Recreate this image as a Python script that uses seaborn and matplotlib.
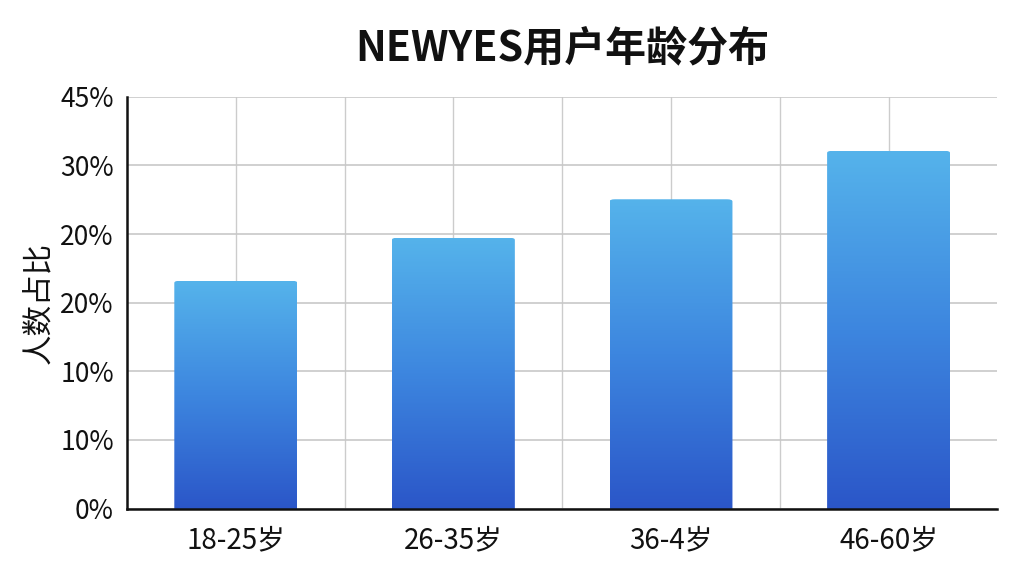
"""
    NEWYES用户年龄分布 - barras con degradado
"""
import numpy as np
import pandas as pd
import matplotlib
matplotlib.use('Agg')
import matplotlib.pyplot as plt
import seaborn as sns
from matplotlib.patches import FancyBboxPatch
from matplotlib.colors import LinearSegmentedColormap

# Datos (en unidades del eje, 0-45)
grupos = ['18-25岁', '26-35岁', '36-4岁', '46-60岁']
valores = [24.9, 29.6, 33.8, 39.1]
ticks_y = [0, 7.5, 15, 22.5, 30, 37.5, 45]
etiquetas_y = ['0%', '10%', '10%', '20%', '20%', '30%', '45%']

df = pd.DataFrame({'grupo': grupos, 'valor': valores})

sns.set_theme(style='white')
plt.rcParams['font.family'] = ['Noto Sans CJK SC', 'DejaVu Sans']

fig, ax = plt.subplots(figsize=(10.24, 5.76), dpi=100)
fig.subplots_adjust(left=0.124, right=0.974, top=0.832, bottom=0.117)

sns.barplot(data=df, x='grupo', y='valor', ax=ax, width=0.565,
            color='#3f8ee0', edgecolor='none', zorder=2)

# Degradado con esquinas superiores redondeadas
cmap = LinearSegmentedColormap.from_list('azul', ['#2b56c8', '#3d86df', '#55b3eb'])
grad = np.linspace(0, 1, 256).reshape(-1, 1)
for bar in list(ax.patches):
    x0, w, h = bar.get_x(), bar.get_width(), bar.get_height()
    bar.set_visible(False)
    clip = FancyBboxPatch((x0, -2), w, h + 2,
                          boxstyle='round,pad=0,rounding_size=0.025',
                          mutation_aspect=9.5, transform=ax.transData,
                          facecolor='none', edgecolor='none')
    ax.add_patch(clip)
    im = ax.imshow(grad, extent=[x0, x0 + w, 0, h], origin='lower',
                   cmap=cmap, aspect='auto', zorder=2)
    im.set_clip_path(clip)

ax.set_xlim(-0.5, 3.5)
ax.set_ylim(0, 45)
ax.set_yticks(ticks_y)
ax.set_yticklabels(etiquetas_y)
ax.set_xticks(np.arange(0, 3.01, 0.5), minor=True)
ax.xaxis.remove_overlapping_locs = False

ax.grid(True, axis='y', color='#c8c8c8', linewidth=1.2, zorder=0)
ax.grid(True, axis='x', which='minor', color='#cccccc', linewidth=1.0, zorder=0)
ax.set_axisbelow(True)

for s in ['top', 'right']:
    ax.spines[s].set_visible(False)
for s in ['left', 'bottom']:
    ax.spines[s].set_color('#111111')
    ax.spines[s].set_linewidth(1.8)

ax.tick_params(axis='both', which='major', length=6, width=1.5, color='#111111',
               labelsize=19, labelcolor='#111111')
ax.tick_params(axis='x', which='major', labelsize=20, pad=6)
ax.tick_params(axis='x', which='minor', length=0)

ax.set_xlabel('')
ax.set_ylabel('人数占比', fontsize=22, color='#111111', labelpad=4)
ax.set_title('NEWYES用户年龄分布', fontsize=29.5, fontweight='bold',
             color='#111111', pad=26)

plt.savefig('out.png', dpi=100)
